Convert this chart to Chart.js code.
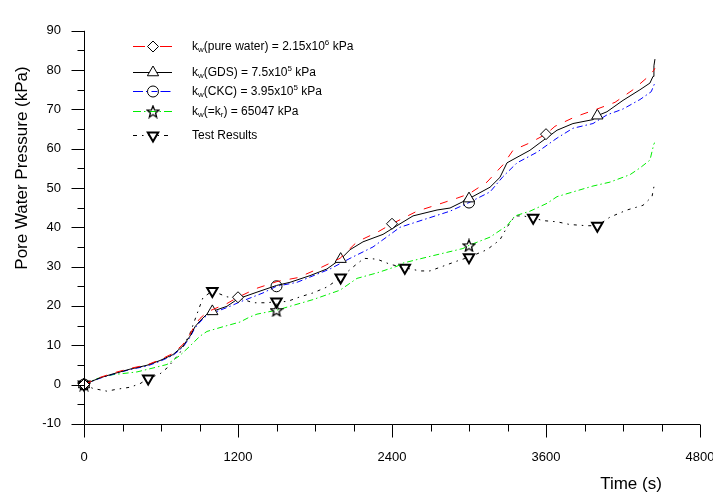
<!DOCTYPE html>
<html>
<head>
<meta charset="utf-8">
<script src="https://cdn.jsdelivr.net/npm/chart.js@4/dist/chart.umd.min.js"></script>
<style>
html,body{margin:0;padding:0;background:#fff;}
#wrap{width:713px;height:495px;position:relative;}
</style>
</head>
<body>
<div id="wrap"><canvas id="c" width="713" height="495"></canvas></div>
<script>
// ---------------- DATA ----------------
const xTickValues = [0, 1200, 2400, 3600, 4800];
const yTickValues = [-10, 0, 10, 20, 30, 40, 50, 60, 70, 80, 90];
const xAxisTitle = 'Time (s)';
const yAxisTitle = 'Pore Water Pressure (kPa)';

// kw(pure water)
const pureTime   = [0,125,226,358,491,592,693,771,826,865,904,958,1005,1114,1200,1348,1504,1667,1823,1995,2127,2283,2400,2595,2758,2914,3000,3140,3265,3343,3475,3600,3670,3826,3982,4138,4278,4410,4441,4449];
const pureValues = [0,1.8,2.9,4.1,5.0,6.3,7.9,10.2,12.8,15.2,16.8,18.4,19.1,20.6,22.2,24.5,26.2,27.2,29.4,32.1,36.3,38.7,40.9,44.1,45.8,47.5,48.5,51.5,55.9,59.6,61.5,63.7,65.7,68.1,69.9,71.8,75.0,78.7,80.0,80.5];
const pureMarkers = [0,1200,2400,3600];

// kw(GDS)
const gdsTime   = [0,125,226,358,491,592,693,771,826,865,904,958,1000,1114,1200,1348,1500,1605,1761,1893,2000,2073,2174,2330,2408,2564,2751,2852,3000,3164,3241,3296,3374,3475,3553,3686,3810,3966,4000,4075,4200,4332,4410,4434,4441,4449];
const gdsValues = [0,1.7,2.7,3.9,4.9,6.1,7.6,9.8,12.3,14.7,16.2,17.9,18.6,19.9,21.8,23.5,25.2,26.0,27.7,29.4,31.9,34.3,36.3,38.2,39.8,42.9,44.4,44.9,47.3,50.2,52.7,56.4,57.8,59.6,61.5,64.7,66.4,67.4,68.4,69.4,72.3,75.0,76.7,78.4,81.1,82.8];
const gdsMarkers = [0,1000,2000,3000,4000];

// kw(CKC)
const ckcTime   = [0,125,226,358,491,592,693,771,826,865,904,958,1005,1138,1200,1395,1500,1660,1917,2073,2252,2408,2462,2642,2852,3000,3164,3265,3374,3530,3686,3810,3966,4075,4200,4332,4420,4445];
const ckcValues = [0,1.6,2.6,3.8,4.7,5.9,7.4,9.5,12.0,14.4,15.9,17.6,18.2,19.9,20.8,23.3,25.0,26.0,29.4,32.1,35.0,38.7,40.0,41.9,44.1,46.3,49.0,52.9,56.4,59.1,62.7,65.2,66.4,68.6,70.1,72.5,74.5,76.5];
const ckcMarkers = [0,1500,3000];

// kw(=kr)
const krTime   = [0,101,226,413,538,647,748,826,904,958,1083,1216,1293,1348,1500,1784,1995,2127,2283,2439,2486,2696,2953,3000,3164,3296,3358,3475,3608,3686,3841,3966,4099,4255,4332,4410,4441,4449];
const krValues = [0,1.5,2.5,3.2,4.2,5.1,7.4,9.8,12.3,13.5,14.7,15.9,17.2,17.9,18.9,21.6,24.0,27.0,28.4,30.1,30.9,32.6,34.6,35.4,37.5,40.4,42.9,44.1,46.1,47.8,49.3,50.5,51.5,53.4,55.1,57.1,61.3,61.5];
const krMarkers = [0,1500,3000];

// Test results
const testTime   = [0,70,179,257,358,436,500,592,654,748,826,880,927,1000,1114,1200,1317,1426,1500,1582,1683,1784,1893,2000,2104,2182,2283,2384,2500,2618,2696,2797,2906,3000,3140,3241,3296,3358,3421,3500,3577,3686,3787,3919,4000,4099,4231,4356,4426,4445];
const testValues = [0,-1.0,-1.7,-1.2,-0.7,0.2,1.5,2.7,4.4,8.1,13.0,17.9,22.1,23.8,22.3,22.1,20.8,20.8,21.1,21.1,22.3,23.3,24.8,27.2,30.1,32.1,31.9,30.6,29.7,28.9,28.9,30.1,31.4,32.4,34.3,36.8,40.0,42.9,42.9,42.4,41.7,41.4,40.7,40.4,40.4,42.6,44.4,45.6,47.8,51.0];
const testMarkers = [0,500,1000,1500,2000,2500,3000,3500,4000];

// legend labels (rich text parts: [text, 'sub'|'sup'|undefined])
const legendLabels = [
  [['k'],['w','sub'],['(pure water) = 2.15x10'],['6','sup'],[' kPa']],
  [['k'],['w','sub'],['(GDS) = 7.5x10'],['5','sup'],[' kPa']],
  [['k'],['w','sub'],['(CKC) = 3.95x10'],['5','sup'],[' kPa']],
  [['k'],['w','sub'],['(=k'],['r','sub'],[') = 65047 kPa']],
  [['Test Results']]
];

// ---------------- STYLE ----------------
const FONT = '"Liberation Sans", Arial, sans-serif';

function makeStar() {
  const c = document.createElement('canvas');
  c.width = 14; c.height = 14;
  const g = c.getContext('2d');
  g.strokeStyle = '#000'; g.lineWidth = 1.3;
  g.beginPath();
  for (let i = 0; i < 10; i++) {
    const r = i % 2 === 0 ? 6.2 : 2.7;
    const a = -Math.PI / 2 + i * Math.PI / 5;
    const px = 7 + r * Math.cos(a), py = 7.6 + r * Math.sin(a);
    if (i === 0) g.moveTo(px, py); else g.lineTo(px, py);
  }
  g.closePath();
  g.stroke();
  return c;
}
const starImg = makeStar();

function series(times, values) {
  return times.map((t, i) => ({ x: t, y: values[i] }));
}

function ds(label, times, values, markers, color, dash, legendDash, m) {
  return {
    label: label,
    data: series(times, values),
    borderColor: color,
    borderWidth: 1,
    borderDash: dash,
    fill: false,
    tension: 0,
    clip: false,
    pointStyle: m.style,
    pointRotation: m.rotation || 0,
    pointBorderColor: '#000',
    pointBackgroundColor: m.fill,
    pointBorderWidth: m.bw,
    pointRadius: (ctx) => (ctx.raw && markers.includes(ctx.raw.x)) ? m.r : 0,
    pointHoverRadius: 0,
    pointHitRadius: 0,
    _m: m,
    _legendDash: legendDash
  };
}

const markerDiamond = { style: 'rectRot', r: 5.5, fill: '#fff', bw: 1 };
const markerTriUp   = { style: 'triangle', r: 6.5, fill: '#fff', bw: 1 };
const markerCircle  = { style: 'circle', r: 5.5, fill: 'rgba(255,255,255,0)', bw: 1 };
const markerStar    = { style: starImg, r: 6, fill: 'rgba(255,255,255,0)', bw: 1 };
const markerTriDown = { style: 'triangle', r: 6, rotation: 180, fill: '#fff', bw: 2 };

const datasets = [
  ds('kw(pure water) = 2.15x10^6 kPa', pureTime, pureValues, pureMarkers, '#ff0000', [8, 9], [12, 15], markerDiamond),
  ds('kw(GDS) = 7.5x10^5 kPa', gdsTime, gdsValues, gdsMarkers, '#000000', [], [], markerTriUp),
  ds('kw(CKC) = 3.95x10^5 kPa', ckcTime, ckcValues, ckcMarkers, '#0000ff', [6, 3, 1.5, 3], [10, 3, 1.5, 4, 6, 3], markerCircle),
  ds('kw(=kr) = 65047 kPa', krTime, krValues, krMarkers, '#00ee00', [6, 3, 1.5, 3], [8, 3, 1.5, 3], markerStar),
  ds('Test Results', testTime, testValues, testMarkers, '#000000', [3, 5, 1.5, 5], [4, 5, 1.5, 5], markerTriDown)
];

// ---------------- CUSTOM DRAWING ----------------
function drawRich(ctx, parts, x, y) {
  let cx = x;
  for (const p of parts) {
    const t = p[0], kind = p[1];
    if (kind === 'sub') {
      ctx.font = '8px ' + FONT; ctx.fillText(t, cx, y + 3.5);
    } else if (kind === 'sup') {
      ctx.font = '8px ' + FONT; ctx.fillText(t, cx, y - 4);
    } else {
      ctx.font = '12px ' + FONT; ctx.fillText(t, cx, y);
    }
    cx += ctx.measureText(t).width;
  }
}

const decorPlugin = {
  id: 'decor',
  afterDraw(chart) {
    const ctx = chart.ctx;
    const xs = chart.scales.x, ys = chart.scales.y;
    ctx.save();
    ctx.strokeStyle = '#000';
    ctx.lineWidth = 1;
    ctx.setLineDash([]);
    const x0 = Math.round(xs.getPixelForValue(0)) + 0.5;
    const yB = Math.round(ys.getPixelForValue(-10)) + 0.5;
    const yT = ys.getPixelForValue(90);
    const xR = xs.getPixelForValue(4800);
    ctx.beginPath();
    ctx.moveTo(x0, yT); ctx.lineTo(x0, yB);
    ctx.moveTo(x0, yB); ctx.lineTo(xR, yB);
    for (let v = -10; v <= 90; v += 5) {
      const py = Math.round(ys.getPixelForValue(v)) + 0.5;
      const len = (v % 10 === 0) ? 13 : 7;
      ctx.moveTo(x0 - len, py); ctx.lineTo(x0, py);
    }
    for (let v = 0; v <= 4800; v += 300) {
      const px = Math.round(xs.getPixelForValue(v)) + 0.5;
      const len = (v % 1200 === 0) ? 13 : 7;
      ctx.moveTo(px, yB); ctx.lineTo(px, yB + len);
    }
    ctx.stroke();

    // axis titles
    ctx.fillStyle = '#000';
    ctx.font = '17px ' + FONT;
    ctx.textAlign = 'center';
    ctx.textBaseline = 'middle';
    ctx.save();
    ctx.translate(22, 168);
    ctx.rotate(-Math.PI / 2);
    ctx.fillText(yAxisTitle, 0, 0);
    ctx.restore();
    ctx.fillText(xAxisTitle, 631, 484);

    // legend
    const rowsY = [46, 72, 91, 111, 135];
    const lineX0 = 133, lineX1 = 172, markX = 153, textX = 192;
    ctx.textAlign = 'left';
    ctx.textBaseline = 'middle';
    chart.data.datasets.forEach((d, i) => {
      const y = rowsY[i] + 0.5;
      ctx.strokeStyle = d.borderColor;
      ctx.lineWidth = 1;
      ctx.setLineDash(d._legendDash || []);
      ctx.beginPath();
      ctx.moveTo(lineX0, y); ctx.lineTo(lineX1, y);
      ctx.stroke();
      ctx.setLineDash([]);
      const m = d._m;
      ctx.strokeStyle = '#000';
      ctx.fillStyle = m.fill;
      ctx.lineWidth = m.bw;
      Chart.helpers.drawPoint(ctx, { pointStyle: m.style, rotation: m.rotation || 0, radius: m.r, borderWidth: m.bw }, markX, y);
      ctx.fillStyle = '#000';
      drawRich(ctx, legendLabels[i], textX, y);
    });
    ctx.restore();
  }
};

// ---------------- CHART ----------------
new Chart(document.getElementById('c'), {
  type: 'line',
  data: { datasets: datasets },
  options: {
    responsive: false,
    animation: false,
    devicePixelRatio: 1,
    events: [],
    layout: { padding: { top: 16, right: 13, left: 0, bottom: 0 } },
    plugins: { legend: { display: false }, tooltip: { enabled: false } },
    scales: {
      x: {
        type: 'linear',
        min: 0, max: 4800,
        afterBuildTicks: (s) => { s.ticks = xTickValues.map(v => ({ value: v })); },
        afterFit: (s) => { s.height = 71.2; s.paddingRight = 13; s.paddingLeft = 0; },
        grid: { display: false, drawTicks: false },
        border: { display: false },
        ticks: {
          color: '#000', font: { size: 13, family: FONT },
          padding: 26, maxRotation: 0, autoSkip: false,
          callback: (v) => String(v)
        }
      },
      y: {
        type: 'linear',
        min: -10, max: 90,
        afterBuildTicks: (s) => { s.ticks = yTickValues.map(v => ({ value: v })); },
        afterFit: (s) => { s.width = 84; },
        grid: { display: false, drawTicks: false },
        border: { display: false },
        ticks: {
          color: '#000', font: { size: 13, family: FONT },
          padding: 23, autoSkip: false,
          callback: (v) => String(v)
        }
      }
    }
  },
  plugins: [decorPlugin]
});
</script>
</body>
</html>
